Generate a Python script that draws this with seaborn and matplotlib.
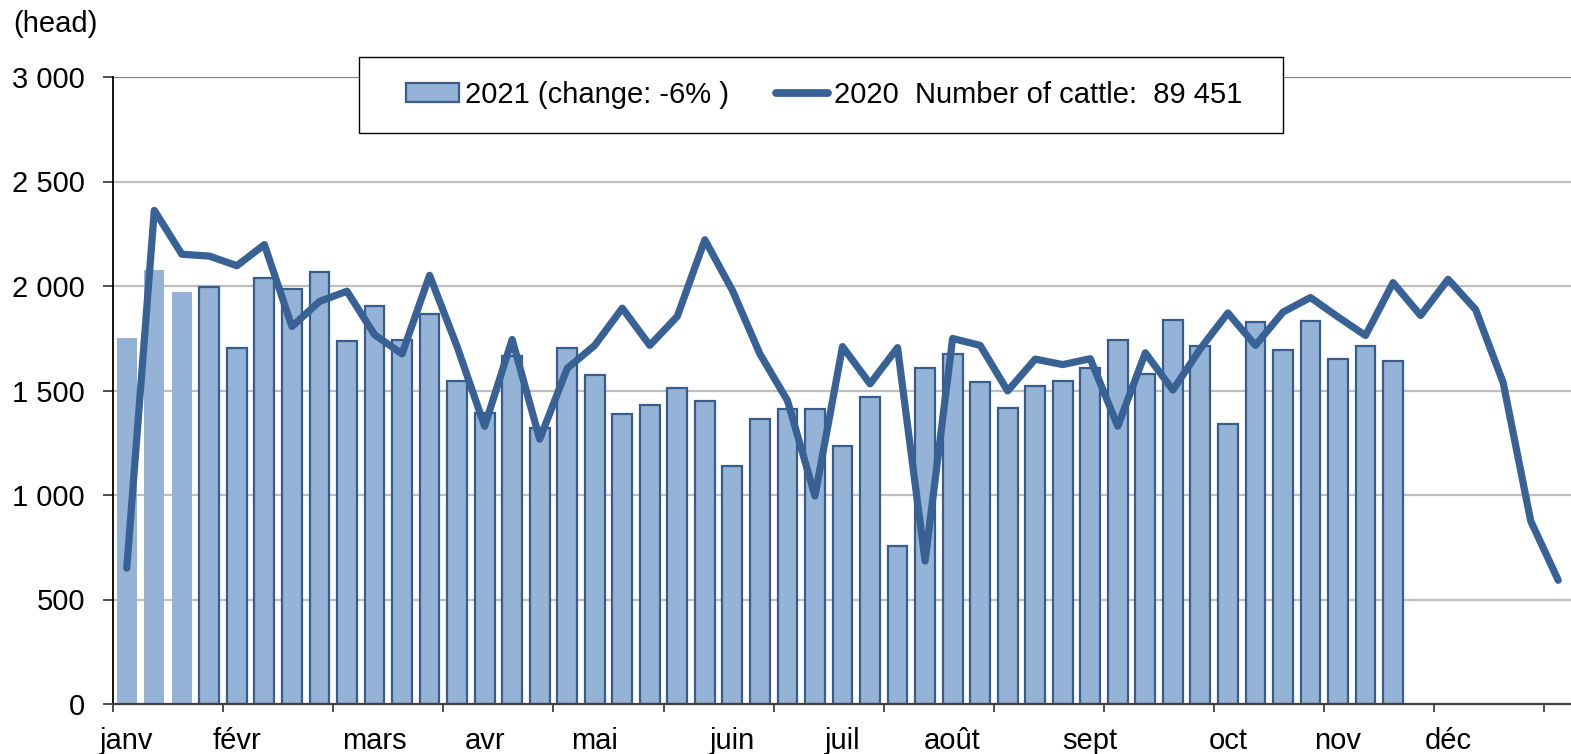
import numpy as np
import pandas as pd
import matplotlib
matplotlib.use("Agg")
import matplotlib.pyplot as plt
import seaborn as sns
from matplotlib.patches import Patch, Rectangle
from matplotlib.lines import Line2D

# ---------------- data ----------------
weeks = [f"S{i}" for i in range(1, 54)]
cattle_2021 = [1749, 2078, 1970, 1993, 1703, 2037, 1984, 2069, 1735, 1903,
               1742, 1864, 1546, 1390, 1663, 1322, 1705, 1576, 1387, 1433,
               1514, 1449, 1140, 1362, 1410, 1412, 1233, 1470, 758, 1610,
               1673, 1541, 1417, 1523, 1546, 1608, 1744, 1581, 1839, 1714,
               1341, 1827, 1693, 1834, 1650, 1714, 1643]
cattle_2020 = [650, 2362, 2152, 2143, 2097, 2198, 1806, 1926, 1975, 1767,
               1675, 2051, 1710, 1329, 1744, 1267, 1606, 1716, 1894, 1716,
               1855, 2221, 1979, 1675, 1452, 995, 1710, 1532, 1705, 684,
               1749, 1716, 1498, 1650, 1624, 1652, 1329, 1680, 1502, 1700,
               1871, 1716, 1875, 1945, 1852, 1763, 2016, 1859, 2032, 1887,
               1537, 876, 592]
month_labels = ["janv", "févr", "mars", "avr", "mai", "juin", "juil",
                "août", "sept", "oct", "nov", "déc"]
month_first_week = [0, 4, 9, 13, 17, 22, 26, 30, 35, 40, 44, 48]
y_ticks = [0, 500, 1000, 1500, 2000, 2500, 3000]
legend_2021 = "2021 (change: -6% )"
legend_2020 = "2020  Number of cattle:  89 451"
unit_label = "(head)"

# ---------------- style ----------------
sns.set_theme(style="white")
plt.rcParams["font.family"] = ["Liberation Sans", "DejaVu Sans"]
plt.rcParams["text.color"] = "black"
plt.rcParams["xtick.color"] = "black"
plt.rcParams["ytick.color"] = "black"
plt.rcParams["xtick.labelcolor"] = "black"
plt.rcParams["ytick.labelcolor"] = "black"
FS = 21
BAR_FILL = "#95B3D7"
BAR_EDGE = "#385D8A"
LINE_COL = "#386295"
N_PLAIN = 3  # first bars drawn without border

W, H, DPI = 1571, 754, 100
fig = plt.figure(figsize=(W / DPI, H / DPI), dpi=DPI)
ax = fig.add_axes([113 / W, 1 - 704 / H, (1572 - 113) / W, (704 - 77) / H])

df21 = pd.DataFrame({"week": weeks[:len(cattle_2021)], "value": cattle_2021})
sns.barplot(data=df21, x="week", y="value", order=weeks, color=BAR_FILL,
            saturation=1, width=0.72, edgecolor=BAR_EDGE, linewidth=1.6,
            errorbar=None, ax=ax, zorder=3)
for p in ax.patches[:N_PLAIN]:
    p.set_edgecolor("none")

df20 = pd.DataFrame({"pos": np.arange(len(cattle_2020)), "value": cattle_2020})
sns.lineplot(data=df20, x="pos", y="value", color=LINE_COL, linewidth=5.2,
             ax=ax, zorder=4, solid_capstyle="round", solid_joinstyle="round")

ax.set_xlim(-0.5, 52.5)
ax.set_ylim(0, 3000)
ax.set_xlabel("")
ax.set_ylabel("")

# gridlines
for v in y_ticks[1:-1]:
    ax.axhline(v, color="#BFBFBF", lw=1.6, zorder=1)
ax.axhline(3000, color="#808080", lw=1.6, zorder=1)

# spines
for s in ["top", "right"]:
    ax.spines[s].set_visible(False)
ax.spines["left"].set_color("#000000")
ax.spines["left"].set_linewidth(1.3)
ax.spines["bottom"].set_color("#404040")
ax.spines["bottom"].set_linewidth(1.6)
ax.spines["left"].set_zorder(5)
ax.spines["bottom"].set_zorder(5)

# y ticks
ax.set_yticks(y_ticks)
ax.set_yticklabels([f"{v:,}".replace(",", " ") for v in y_ticks], fontsize=FS)
ax.tick_params(axis="y", direction="out", length=7.2, width=1.2, color="#303030",
               pad=13, left=True)

# x ticks: marks every 4 weeks, labels at month starts
ax.set_xticks(np.arange(-0.5, 52.6, 4))
ax.set_xticklabels([])
ax.tick_params(axis="x", which="major", direction="out", length=6, width=1.2,
               color="#303030", bottom=True)
ax.set_xticks(month_first_week, minor=True)
ax.set_xticklabels(month_labels, minor=True, fontsize=FS)
ax.tick_params(axis="x", which="minor", length=0, pad=16.5, bottom=True)

# unit label
fig.text(13 / W, 1 - 23.5 / H, unit_label, fontsize=FS, va="center", ha="left")

# legend with a framed box
handles = [Patch(facecolor=BAR_FILL, edgecolor=BAR_EDGE, linewidth=1.6),
           Line2D([0], [0], color=LINE_COL, lw=5.6, solid_capstyle="round")]
fig.patches.append(Rectangle((359 / W, 1 - 133 / H), (1283 - 359) / W, (133 - 57) / H,
                             transform=fig.transFigure, facecolor="white",
                             edgecolor="#000000", linewidth=1.0, zorder=10))
leg = fig.legend(handles, [legend_2021, legend_2020], ncol=2, frameon=False,
                 loc="center left", bbox_to_anchor=(406 / W, 1 - 95 / H),
                 bbox_transform=fig.transFigure, fontsize=FS, borderpad=0,
                 borderaxespad=0, handlelength=1.8, handletextpad=0.22,
                 columnspacing=1.6, handleheight=0.6)
leg.set_zorder(11)

fig.savefig("out.png", dpi=DPI)
